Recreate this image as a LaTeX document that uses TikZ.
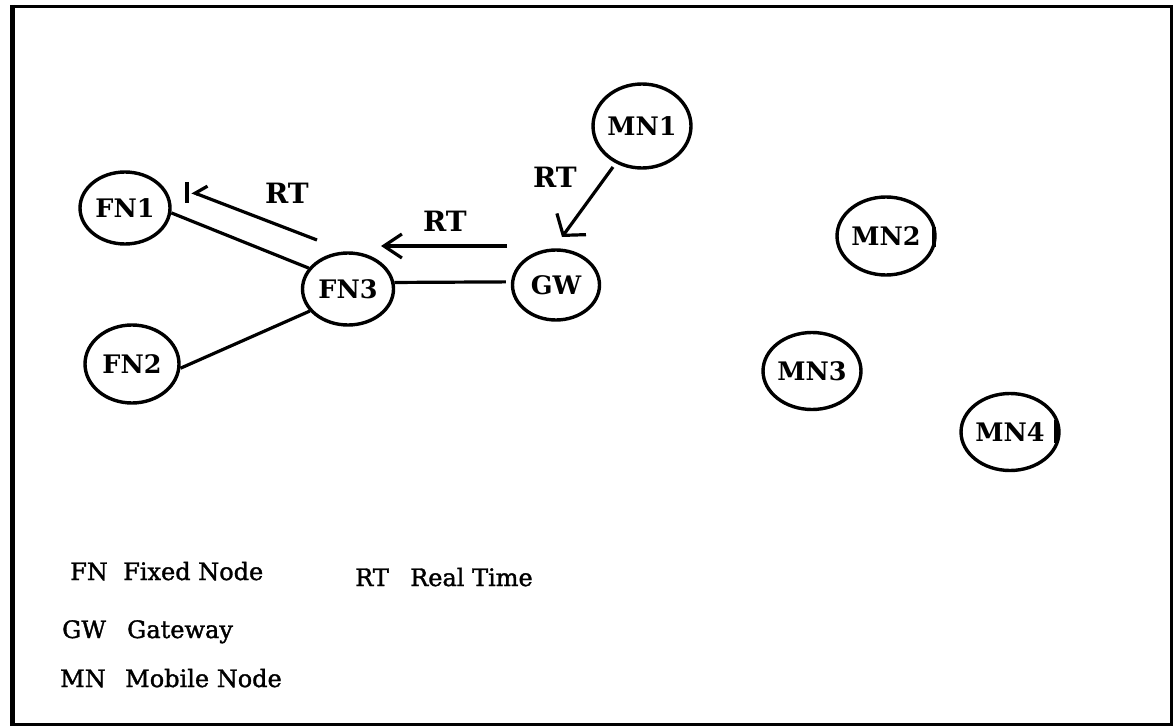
\documentclass[tikz,border=0pt]{standalone}
\usepackage{fontspec}
\setmainfont{DejaVu Serif}
\newfontfamily\legfont{DejaVu Serif}[FakeBold=1.5]
\usetikzlibrary{arrows.meta,shapes.geometric}
\begin{document}
\begin{tikzpicture}[x=1pt,y=-1pt,
  nd/.style={draw,ellipse,line width=3.4pt,inner sep=0pt,font=\fontsize{25.5}{25.5}\selectfont\bfseries},
  edge/.style={line width=3.2pt},
  tickbar/.style={line width=3.2pt},
  rt/.style={inner sep=0pt,font=\fontsize{28}{28}\selectfont\bfseries},
  leg/.style={anchor=base west,inner sep=0pt,font=\fontsize{24}{24}\legfont}]
\useasboundingbox (0,0) rectangle (1174,727);
% frame
\draw[line width=3pt] (12.5,6.5) rectangle (1171.5,724.5);
\draw[line width=5pt] (12.5,5) -- (12.5,726);

% nodes
\node[nd,minimum width=90pt,minimum height=72pt] (FN1) at (125,208) {FN1};
\node[nd,minimum width=91pt,minimum height=72pt] (FN3) at (348,289) {FN3};
\node[nd,minimum width=94pt,minimum height=78pt] (FN2) at (132,364) {FN2};
\node[nd,minimum width=87pt,minimum height=70pt] (GW)  at (556,285) {GW};
\node[nd,minimum width=92pt,minimum height=84pt] (MN1) at (642,126) {MN1};
\node[nd,minimum width=92pt,minimum height=78pt] (MN2) at (886,236) {MN2};
\node[nd,minimum width=90pt,minimum height=77pt] (MN3) at (812,371) {MN3};
\node[nd,minimum width=86pt,minimum height=77pt] (MN4) at (1010,432) {MN4};

% links
\draw[edge] (FN1.-6) -- (FN3.152);
\draw[edge] (FN3.210) -- (FN2.355);
\draw[edge,shorten >=5pt] (FN3.8) -- (GW.176);

% RT arrows
\coordinate (a1s) at (317,240);
\coordinate (a1e) at (192,192);
\coordinate (b1a) at (187,182);
\coordinate (b1b) at (187,203);
\draw[edge,-{Straight Barb[right,length=9pt,width=22pt]}] (a1s) -- (a1e);
\draw[tickbar] (b1a) -- (b1b);

\coordinate (a2s) at (507,246);
\coordinate (a2e) at (381,246);
\draw[edge,-{Straight Barb[length=18pt,width=24pt]}] (a2s) -- (a2e);

\coordinate (a3s) at (613,167);
\coordinate (a3e) at (562,237);
\draw[edge,-{Straight Barb[length=14pt,width=36pt]}] (a3s) -- (a3e);

% small bars beside MN2 and MN4
\coordinate (b2a) at (934,227);
\coordinate (b2b) at (934,247);
\draw[tickbar] (b2a) -- (b2b);
\coordinate (b4a) at (1056,420);
\coordinate (b4b) at (1056,443);
\draw[tickbar] (b4a) -- (b4b);

% labels
\node[rt] (rt1) at (287,193) {RT};
\node[rt] (rt2) at (445,221) {RT};
\node[rt] (rt3) at (555,177) {RT};

% legend
\node[leg] (lfn) at (70,580) {FN};
\node[leg] (lfnd) at (123,580) {Fixed Node};
\node[leg] (lrt) at (355,586) {RT};
\node[leg] (lrtd) at (410,586) {Real Time};
\node[leg] (lgw) at (62,638) {GW};
\node[leg] (lgwd) at (127,638) {Gateway};
\node[leg] (lmn) at (60,687) {MN};
\node[leg] (lmnd) at (125,687) {Mobile Node};
\end{tikzpicture}
\end{document}
